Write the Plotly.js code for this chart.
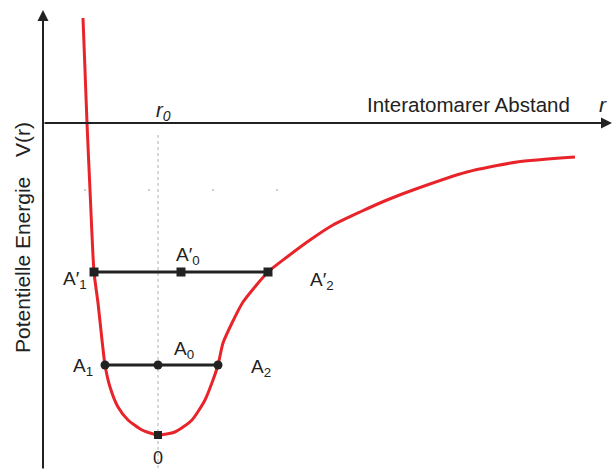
<!DOCTYPE html>
<html>
<head>
<meta charset="utf-8">
<script src="https://cdn.plot.ly/plotly-3.0.1.min.js"></script>
<style>
  html, body { margin: 0; padding: 0; background: #fff; }
  #chart { width: 615px; height: 470px; }
</style>
</head>
<body>
<div id="chart"></div>
<script>
// Potential energy curve V(r) of a diatomic bond (arbitrary units)
const rCurve = [0.40, 0.42, 0.44, 0.47, 0.51, 0.55, 0.59, 0.62, 0.67, 0.75, 0.85, 0.99,
                1.15, 1.32, 1.49, 1.62, 1.70, 1.75, 1.80, 1.89, 2.00, 2.25, 2.44, 2.67,
                2.90, 3.17, 3.44, 3.70, 4.24, 4.74, 5.32];
const vCurve = [1.05, 0.53, 0.00, -0.67, -1.49, -1.80, -2.17, -2.42, -2.64, -2.84, -2.97, -3.07,
                -3.12, -3.09, -2.97, -2.77, -2.57, -2.42, -2.20, -2.00, -1.79, -1.49, -1.34, -1.17,
                -1.02, -0.89, -0.77, -0.67, -0.49, -0.39, -0.34];

// Equilibrium distance and energy minimum
const r0 = 1.15;
const vMin = -3.12;

// Two energy levels: turning points (left, right) and mid point
const levelV     = [-1.49, -2.42];
const levelLeft  = [0.51, 0.62];
const levelMid   = [1.38, 1.15];
const levelRight = [2.25, 1.75];
const levelNames = [["A′<sub>1</sub>", "A′<sub>0</sub>", "A′<sub>2</sub>"],
                    ["A<sub>1</sub>", "A<sub>0</sub>", "A<sub>2</sub>"]];

// Faint reference line
const refV = -0.67;
const refR = [0.41, 2.92];

// Axis extents
const xMax = 5.69, yTop = 1.13, yBottom = -3.47;

const FONT = "Liberation Sans, Arial, sans-serif";
const INK = "#222222";

const traces = [];

// dotted vertical at r0
traces.push({
  x: [r0, r0], y: [-0.12, yBottom], mode: "lines",
  line: { color: "#cccccc", width: 1.5, dash: "dot" }, hoverinfo: "skip"
});
// faint horizontal reference
traces.push({
  x: refR, y: [refV, refV], mode: "lines",
  line: { color: "#9a9a9a", width: 1, dash: "2px,62px" }, hoverinfo: "skip"
});
// potential curve
traces.push({
  x: rCurve, y: vCurve, mode: "lines",
  line: { color: "#e8242a", width: 3, shape: "spline", smoothing: 0.6 },
  hoverinfo: "skip"
});
// energy levels
const symbols = ["square", "circle"];
levelV.forEach((v, i) => {
  traces.push({
    x: [levelLeft[i], levelMid[i], levelRight[i]], y: [v, v, v],
    mode: "lines+markers",
    line: { color: INK, width: 3 },
    marker: { color: INK, size: 9, symbol: symbols[i] },
    hoverinfo: "skip"
  });
});
// minimum point
traces.push({
  x: [r0], y: [vMin], mode: "markers",
  marker: { color: INK, size: 8, symbol: "square" }, hoverinfo: "skip"
});

const txt = (x, y, text, extra) => Object.assign({
  x, y, xref: "x", yref: "y", text, showarrow: false,
  font: { family: FONT, size: 19, color: INK }
}, extra || {});
const big = (size) => ({ family: FONT, size, color: INK });

const annotations = [
  // axis arrows
  { x: xMax, y: 0, ax: 0, ay: 0, axref: "x", ayref: "y", xref: "x", yref: "y",
    text: "", showarrow: true, arrowhead: 2, arrowsize: 1.1, arrowwidth: 2, arrowcolor: INK },
  { x: 0, y: yTop, ax: 0, ay: yBottom, axref: "x", ayref: "y", xref: "x", yref: "y",
    text: "", showarrow: true, arrowhead: 2, arrowsize: 1.1, arrowwidth: 2, arrowcolor: INK },
  // axis labels
  txt(4.25, 0.19, "Interatomarer Abstand", { font: big(20.5) }),
  txt(5.60, 0.19, "<i>r</i>", { font: big(21) }),
  txt(-0.21, -0.17, "V(r)", { textangle: -90, font: big(21) }),
  txt(-0.21, -1.42, "Potentielle Energie", { textangle: -90, font: big(21) }),
  txt(1.20, 0.12, "<i>r</i><sub><i>0</i></sub>", { font: big(20) }),
  txt(r0, yBottom, "0", { yanchor: "bottom", font: big(18) }),
  // level labels
  txt(0.32, -1.57, levelNames[0][0]),
  txt(1.45, -1.33, levelNames[0][1]),
  txt(2.79, -1.58, levelNames[0][2]),
  txt(0.40, -2.44, levelNames[1][0]),
  txt(1.41, -2.27, levelNames[1][1]),
  txt(2.18, -2.45, levelNames[1][2])
];

const layout = {
  width: 615, height: 470,
  margin: { l: 0, r: 0, t: 0, b: 0, pad: 0 },
  paper_bgcolor: "#ffffff", plot_bgcolor: "#ffffff",
  showlegend: false,
  xaxis: { range: [-0.43, 5.72], visible: false, fixedrange: true },
  yaxis: { range: [-3.47, 1.23], visible: false, fixedrange: true },
  annotations
};

Plotly.newPlot("chart", traces, layout, { staticPlot: true, displayModeBar: false });
</script>
</body>
</html>
